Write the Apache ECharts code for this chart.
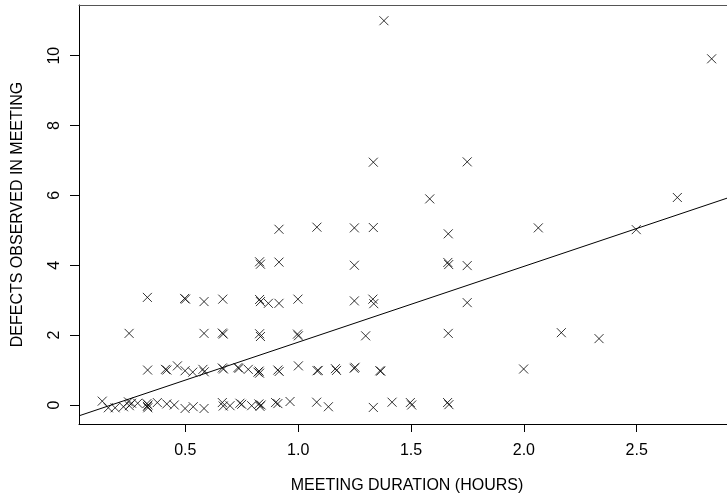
<!DOCTYPE html>
<html>
<head>
<meta charset="utf-8">
<script src="https://cdn.jsdelivr.net/npm/echarts@6/dist/echarts.min.js"></script>
<style>
  html, body { margin: 0; padding: 0; background: #fff; }
  #chart { width: 727px; height: 500px; }
</style>
</head>
<body>
<div id="chart"></div>
<script>
// meeting duration (hours), jittered as in the original plot
const durationHours = [
  // about 0 defects
  0.132, 0.159, 0.189, 0.226, 0.248, 0.252, 0.262, 0.289, 0.330, 0.332, 0.335, 0.334,
  0.376, 0.418, 0.451, 0.499, 0.535, 0.583, 0.664, 0.668, 0.698, 0.742, 0.750, 0.794,
  0.826, 0.831, 0.836, 0.900, 0.910, 0.964, 1.082, 1.134, 1.333, 1.416, 1.497, 1.503,
  1.662, 1.668,
  // about 1
  0.333, 0.412, 0.418, 0.465, 0.499, 0.533, 0.578, 0.584, 0.664, 0.669, 0.733, 0.738,
  0.779, 0.822, 0.827, 0.829, 0.910, 0.916, 1.001, 1.084, 1.089, 1.165, 1.170, 1.248,
  1.252, 1.362, 1.366, 1.999,
  // about 2
  0.251, 0.583, 0.664, 0.668, 0.829, 0.833, 0.997, 1.001, 1.299, 1.665, 2.166, 2.333,
  // about 3
  0.332, 0.497, 0.501, 0.583, 0.666, 0.829, 0.833, 0.868, 0.915, 0.999, 1.249, 1.331,
  1.335, 1.749,
  // about 4
  0.829, 0.833, 0.915, 1.249, 1.663, 1.667, 1.749,
  // about 5
  0.915, 1.083, 1.249, 1.333, 1.665, 2.064, 2.498,
  // higher
  1.583, 2.680, 1.333, 1.749, 2.832, 1.380
];

const defectsObserved = [
  0.11, -0.08, -0.08, -0.05, 0.09, -0.02, 0.05, 0.05, 0.04, -0.04, 0.00, -0.08,
  0.07, 0.03, 0.00, -0.10, -0.05, -0.10, 0.07, -0.03, -0.02, 0.05, 0.02, -0.02,
  0.03, -0.04, 0.00, 0.07, 0.04, 0.10, 0.08, -0.05, -0.07, 0.08, 0.07, 0.00,
  0.07, 0.01,
  1.00, 1.02, 1.00, 1.12, 0.98, 0.94, 1.02, 0.95, 1.06, 1.03, 1.07, 1.05,
  1.02, 0.94, 0.97, 0.91, 1.00, 0.96, 1.12, 0.98, 0.99, 1.04, 0.99, 1.05,
  1.08, 0.98, 0.97, 1.03,
  2.05, 2.05, 2.06, 2.03, 2.04, 1.96, 2.03, 1.98, 1.98, 2.05, 2.07, 1.90,
  3.08, 3.05, 3.03, 2.96, 3.03, 3.02, 2.96, 2.91, 2.91, 3.03, 2.98, 3.03,
  2.90, 2.93,
  4.10, 4.03, 4.09, 4.00, 4.08, 4.02, 3.99,
  5.03, 5.09, 5.07, 5.08, 4.90, 5.07, 5.02,
  5.90, 5.94, 6.95, 6.96, 9.91, 11.00
];

const xTicks = [0.5, 1.0, 1.5, 2.0, 2.5];
const yTicks = [0, 2, 4, 6, 8, 10];

// fitted line: defects = FIT_INTERCEPT + FIT_SLOPE * hours
const FIT_INTERCEPT = -0.373;
const FIT_SLOPE = 2.17;

const X_MIN = 0.029, X_MAX = 2.900;
const Y_MIN = -0.544, Y_MAX = 11.45;

const points = durationHours.map((x, i) => [x, defectsObserved[i]]);
const fitLine = [X_MIN, X_MAX].map(x => [x, FIT_INTERCEPT + FIT_SLOPE * x]);

const font = 'Liberation Sans, Arial, Helvetica, sans-serif';

const chart = echarts.init(document.getElementById('chart'));

chart.setOption({
    animation: false,
    grid: { left: 79, top: 5, right: 0, bottom: 76 },
    xAxis: [
        {
            type: 'value',
            min: X_MIN,
            max: X_MAX,
            name: 'MEETING DURATION (HOURS)',
            nameLocation: 'middle',
            nameGap: 54,
            nameTextStyle: { fontFamily: font, fontSize: 16, color: '#000', padding: [0, 0, 0, 8] },
            axisLine: { onZero: false, lineStyle: { color: '#000', width: 1 } },
            axisTick: { show: true, length: 8, customValues: xTicks, lineStyle: { color: '#000' } },
            axisLabel: {
                customValues: xTicks,
                margin: 19,
                fontFamily: font,
                fontSize: 16,
                color: '#000',
                formatter: v => v.toFixed(1)
            },
            splitLine: { show: false }
        },
        {
            type: 'value',
            position: 'top',
            min: X_MIN,
            max: X_MAX,
            axisLine: { onZero: false, lineStyle: { color: '#555', width: 1 } },
            axisTick: { show: false },
            axisLabel: { show: false },
            splitLine: { show: false }
        }
    ],
    yAxis: {
        type: 'value',
        min: Y_MIN,
        max: Y_MAX,
        name: 'DEFECTS OBSERVED IN MEETING',
        nameLocation: 'middle',
        nameRotate: 90,
        nameGap: 53,
        nameTextStyle: { fontFamily: font, fontSize: 16, color: '#000' },
        axisLine: { show: true, onZero: false, lineStyle: { color: '#000', width: 1 } },
        axisTick: { show: true, length: 9, customValues: yTicks, lineStyle: { color: '#000' } },
        axisLabel: {
            customValues: yTicks,
            rotate: 90,
            margin: 16,
            fontFamily: font,
            fontSize: 16,
            color: '#000'
        },
        splitLine: { show: false }
    },
    series: [
        {
            type: 'line',
            data: fitLine,
            showSymbol: false,
            silent: true,
            lineStyle: { color: '#000', width: 1 },
            z: 1
        },
        {
            type: 'scatter',
            data: points,
            symbol: 'path://M0,0L10,10M10,0L0,10',
            symbolSize: 9,
            itemStyle: { color: 'transparent', borderColor: '#000', borderWidth: 1 },
            z: 2
        }
    ]
});
</script>
</body>
</html>
